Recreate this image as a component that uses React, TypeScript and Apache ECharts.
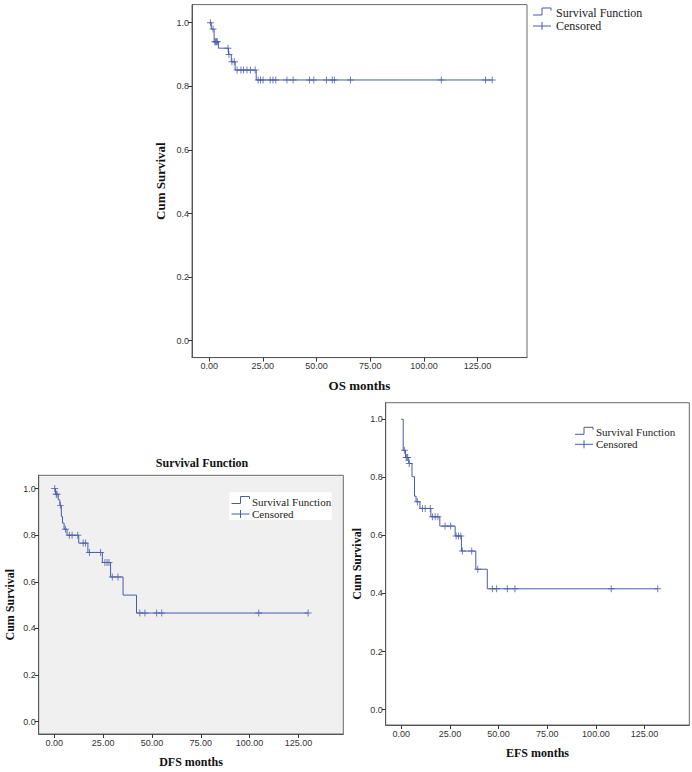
import React, { useEffect, useRef } from "react";
import * as echarts from "echarts";

// ---------- data ----------
const X_TICKS = [0, 25, 50, 75, 100, 125];
const Y_TICKS = [0, 0.2, 0.4, 0.6, 0.8, 1.0];

const OS_EVENT_T = [0, 1.0, 2.3, 4.3, 9.0, 10.3, 12.1, 21.9];
const OS_EVENT_S = [1.0, 0.98, 0.94, 0.92, 0.9, 0.877, 0.851, 0.82];
const OS_CENSOR_T = [0.6, 1.8, 2.6, 3.0, 3.4, 3.8, 8.8, 9.2, 10.6, 11.7, 13.0, 14.8, 16.0, 17.6, 19.2, 21.4, 22.8, 23.9, 25.1, 28.4, 29.7, 31.0, 36.2, 39.1, 46.7, 48.7, 54.6, 57.3, 58.3, 65.8, 108.1, 128.7, 131.8];
const OS_END = 131.8;

const DFS_EVENT_T = [0, 0.6, 2.0, 2.8, 3.6, 4.2, 5.0, 6.5, 12.5, 17.2, 24.6, 28.8, 35.2, 42.1];
const DFS_EVENT_S = [1.0, 0.976, 0.952, 0.928, 0.88, 0.852, 0.826, 0.8, 0.766, 0.726, 0.683, 0.621, 0.543, 0.466];
const DFS_CENSOR_T = [0.2, 1.0, 1.4, 3.1, 5.7, 7.7, 9.1, 12.0, 14.8, 16.0, 18.0, 23.7, 25.9, 27.0, 28.0, 29.7, 32.6, 43.8, 46.4, 52.4, 55.0, 104.7, 130.0];
const DFS_END = 130.0;

const EFS_EVENT_T = [0, 1.0, 2.2, 3.8, 5.5, 6.8, 7.6, 9.6, 15.2, 19.8, 27.7, 30.9, 38.3, 44.2];
const EFS_EVENT_S = [1.0, 0.893, 0.868, 0.848, 0.802, 0.735, 0.716, 0.693, 0.664, 0.632, 0.598, 0.546, 0.4835, 0.416];
const EFS_CENSOR_T = [1.6, 2.5, 2.9, 3.3, 4.1, 8.3, 10.9, 12.3, 14.9, 16.0, 17.4, 18.8, 22.5, 25.4, 28.2, 29.4, 30.6, 31.4, 36.2, 39.3, 46.8, 49.0, 54.5, 58.4, 107.9, 131.8];
const EFS_END = 131.8;

const X_TITLES = ["OS months", "DFS months", "EFS months"];
const Y_TITLE = "Cum Survival";
const LEGEND_NAMES = ["Survival Function", "Censored"];
const PANEL_TITLE = "Survival Function";

// ---------- helpers ----------
const BLUE = "#4a5ca8";
const PLUS = "path://M4.3,0 H5.7 V4.3 H10 V5.7 H5.7 V10 H4.3 V5.7 H0 V4.3 H4.3 Z";

function stepData(ts: number[], ss: number[], end: number) {
  const d = ts.map((t, i) => [t, ss[i]]);
  d.push([end, ss[ss.length - 1]]);
  return d;
}
function censorData(cs: number[], ts: number[], ss: number[]) {
  return cs.map((c) => {
    let s = ss[0];
    for (let i = 0; i < ts.length; i++) if (ts[i] <= c) s = ss[i];
    return [c, s];
  });
}

const PANELS = [
  { grid: { left: 192, top: 4.6, width: 335, height: 353 }, bg: "#ffffff", t: OS_EVENT_T, s: OS_EVENT_S, c: OS_CENSOR_T, end: OS_END, title: X_TITLES[0], nameSize: 13, yGap: 25, xGap: 21 },
  { grid: { left: 38.7, top: 475.3, width: 304.6, height: 258.7 }, bg: "#f0f0f0", t: DFS_EVENT_T, s: DFS_EVENT_S, c: DFS_CENSOR_T, end: DFS_END, title: X_TITLES[1], nameSize: 12, yGap: 23, xGap: 22 },
  { grid: { left: 385.7, top: 402.7, width: 303.6, height: 322.3 }, bg: "#ffffff", t: EFS_EVENT_T, s: EFS_EVENT_S, c: EFS_CENSOR_T, end: EFS_END, title: X_TITLES[2], nameSize: 12, yGap: 23, xGap: 22 },
];

function legendGraphics(x: number, y1: number, y2: number, textX: number, fontSize: number) {
  return [
    {
      type: "polyline",
      shape: { points: [[x, y1 + 2], [x + 9, y1 + 2], [x + 9, y1 - 5], [x + 18, y1 - 5], [x + 18, y1 - 2.5]] },
      style: { stroke: BLUE, fill: null, lineWidth: 1 },
    },
    { type: "text", x: textX, y: y1, style: { text: LEGEND_NAMES[0], fontFamily: "Liberation Serif", fontSize, fill: "#222", verticalAlign: "middle" } },
    { type: "line", shape: { x1: x, y1: y2, x2: x + 18, y2: y2 }, style: { stroke: BLUE, lineWidth: 1 } },
    { type: "line", shape: { x1: x + 9, y1: y2 - 4, x2: x + 9, y2: y2 + 4 }, style: { stroke: BLUE, lineWidth: 1 } },
    { type: "text", x: textX, y: y2, style: { text: LEGEND_NAMES[1], fontFamily: "Liberation Serif", fontSize, fill: "#222", verticalAlign: "middle" } },
  ];
}

export default function App() {
  const ref = useRef<HTMLDivElement>(null);
  useEffect(() => {
    if (!ref.current) return;
    const chart = echarts.init(ref.current, undefined, { renderer: "svg" });
    const axisLabelBase = { fontSize: 9, color: "#333", fontFamily: "Liberation Sans" };
    const option: any = {
      animation: false,
      backgroundColor: "#ffffff",
      grid: PANELS.map((p) => ({ ...p.grid, show: true, backgroundColor: p.bg, borderColor: "#6a6a6a", borderWidth: 1, containLabel: false })),
      xAxis: PANELS.map((p, i) => ({
        type: "value",
        gridIndex: i,
        min: -8,
        max: 148,
        splitLine: { show: false },
        axisLine: { show: true, onZero: false, lineStyle: { color: "#555", width: 1 } },
        axisTick: { show: true, customValues: X_TICKS, length: 4, lineStyle: { color: "#333" } },
        axisLabel: { ...axisLabelBase, customValues: X_TICKS, margin: 4, formatter: (v: number) => v.toFixed(2) },
        name: p.title,
        nameLocation: "middle",
        nameGap: p.xGap,
        nameTextStyle: { fontFamily: "Liberation Serif", fontWeight: "bold", fontSize: p.nameSize, color: "#111" },
      })),
      yAxis: PANELS.map((p, i) => ({
        type: "value",
        gridIndex: i,
        min: -0.053,
        max: 1.057,
        splitLine: { show: false },
        axisLine: { show: true, onZero: false, lineStyle: { color: "#555", width: 1 } },
        axisTick: { show: true, customValues: Y_TICKS, length: 4, lineStyle: { color: "#333" } },
        axisLabel: { ...axisLabelBase, customValues: Y_TICKS, margin: 3, formatter: (v: number) => v.toFixed(1) },
        name: Y_TITLE,
        nameLocation: "middle",
        nameGap: p.yGap,
        nameTextStyle: { fontFamily: "Liberation Serif", fontWeight: "bold", fontSize: p.nameSize, color: "#111" },
      })),
      series: PANELS.flatMap((p, i) => [
        {
          name: LEGEND_NAMES[0],
          type: "line",
          step: "end",
          xAxisIndex: i,
          yAxisIndex: i,
          showSymbol: false,
          lineStyle: { color: BLUE, width: 1 },
          itemStyle: { color: BLUE },
          data: stepData(p.t, p.s, p.end),
          z: 2,
        },
        {
          name: LEGEND_NAMES[1],
          type: "scatter",
          xAxisIndex: i,
          yAxisIndex: i,
          symbol: PLUS,
          symbolSize: 7,
          itemStyle: { color: BLUE },
          data: censorData(p.c, p.t, p.s),
          z: 3,
        },
      ]),
      graphic: [
        ...legendGraphics(533, 13, 26, 556, 12),
        { type: "rect", shape: { x: 229.3, y: 492.3, width: 102.4, height: 27.7 }, style: { fill: "#ffffff", stroke: null } },
        ...legendGraphics(231.5, 501.5, 514, 252, 11),
        ...legendGraphics(575, 432.3, 444.3, 596, 11),
        {
          type: "text",
          x: 202,
          y: 462.7,
          style: { text: PANEL_TITLE, fontFamily: "Liberation Serif", fontWeight: "bold", fontSize: 12, fill: "#111", align: "center", verticalAlign: "middle" },
        },
      ],
    };
    chart.setOption(option);
    return () => chart.dispose();
  }, []);
  return <div ref={ref} style={{ position: "absolute", left: 0, top: 0, width: 692, height: 772 }} />;
}
